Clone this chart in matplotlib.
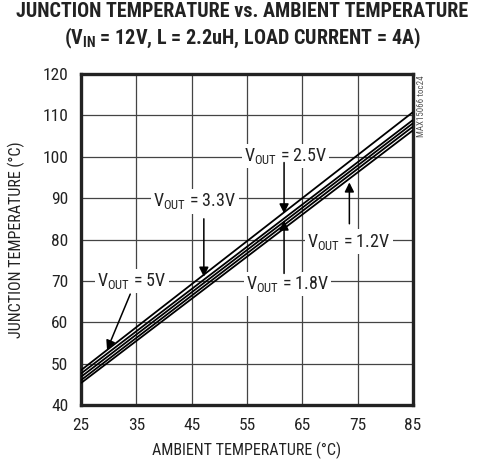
import matplotlib
matplotlib.use("Agg")
import matplotlib.pyplot as plt
import numpy as np

# ambient temperature endpoints (deg C) and junction temperature per output voltage
ambient = [25, 85]
vout_labels = ["5V", "3.3V", "2.5V", "1.8V", "1.2V"]
tj_5v0 = [48.4, 110.8]
tj_3v3 = [47.6, 108.9]
tj_2v5 = [46.8, 108.1]
tj_1v8 = [46.0, 107.3]
tj_1v2 = [45.3, 106.4]
series = [tj_5v0, tj_3v3, tj_2v5, tj_1v8, tj_1v2]

x_ticks = [25, 35, 45, 55, 65, 75, 85]
y_ticks = [40, 50, 60, 70, 80, 90, 100, 110, 120]

FONT = "Roboto Condensed"
plt.rcParams["font.family"] = [FONT, "DejaVu Sans"]
plt.rcParams["mathtext.fontset"] = "custom"
plt.rcParams["mathtext.rm"] = FONT
plt.rcParams["mathtext.it"] = FONT
plt.rcParams["mathtext.bf"] = FONT + ":bold"

INK = "#222222"

fig = plt.figure(figsize=(4.85, 4.63), dpi=100)
ax = fig.add_axes([81 / 485, 1 - 405 / 463, 332 / 485, 331 / 463])

for ys in series:
    ax.plot(ambient, ys, color="black", lw=1.3, zorder=3, solid_capstyle="butt")

ax.set_xlim(25, 85)
ax.set_ylim(40, 120)
ax.set_xticks(x_ticks)
ax.set_yticks(y_ticks)
ax.tick_params(length=0, labelsize=12.5, colors=INK, pad=9)
ax.grid(True, color="#444444", lw=0.9, zorder=1)
for s in ax.spines.values():
    s.set_linewidth(2.4)
    s.set_color(INK)

ax.set_xlabel("AMBIENT TEMPERATURE (°C)", fontsize=11.5, color=INK, labelpad=7)
ax.set_ylabel("JUNCTION TEMPERATURE (°C)", fontsize=11.5, color=INK, labelpad=13)

fig.text(0.5, 0.995, "JUNCTION TEMPERATURE vs. AMBIENT TEMPERATURE",
         ha="center", va="top", fontsize=14.5, fontweight="bold", color=INK)
fig.text(0.5, 0.943, r"(V$_{\mathbf{IN}}$ = 12V, L = 2.2uH, LOAD CURRENT = 4A)",
         ha="center", va="top", fontsize=14.5, fontweight="bold", color=INK)
fig.text(422 / 485, 1 - 75 / 463, "MAX15066 toc24", rotation=90, ha="center",
         va="top", fontsize=6.5, color="#555555")

box = dict(fc="white", ec="none", pad=1.5)
arrow = dict(arrowstyle="-|>", color="black", lw=1.1, mutation_scale=14,
             shrinkA=0, shrinkB=0)

# label text position, arrow start, arrow tip
notes = [
    ("5V", (34.2, 70), (33.9, 66.8), (29.7, 53.3)),
    ("3.3V", (45.6, 89.2), (47.2, 85.0), (47.2, 71.0)),
    ("2.5V", (62.0, 100.2), (61.7, 98.6), (61.7, 86.3)),
    ("1.8V", (62.3, 69.2), (61.7, 71.8), (61.7, 84.6)),
    ("1.2V", (73.4, 79.5), (73.5, 83.8), (73.5, 93.8)),
]
for lab, txt, start, tip in notes:
    ax.text(txt[0], txt[1], r"V$_{\mathrm{OUT}}$ = " + lab, ha="center", va="center",
            fontsize=13, color=INK, bbox=box, zorder=4)
    ax.annotate("", xy=tip, xytext=start, arrowprops=arrow, zorder=5)

fig.savefig("out.png", dpi=100)
